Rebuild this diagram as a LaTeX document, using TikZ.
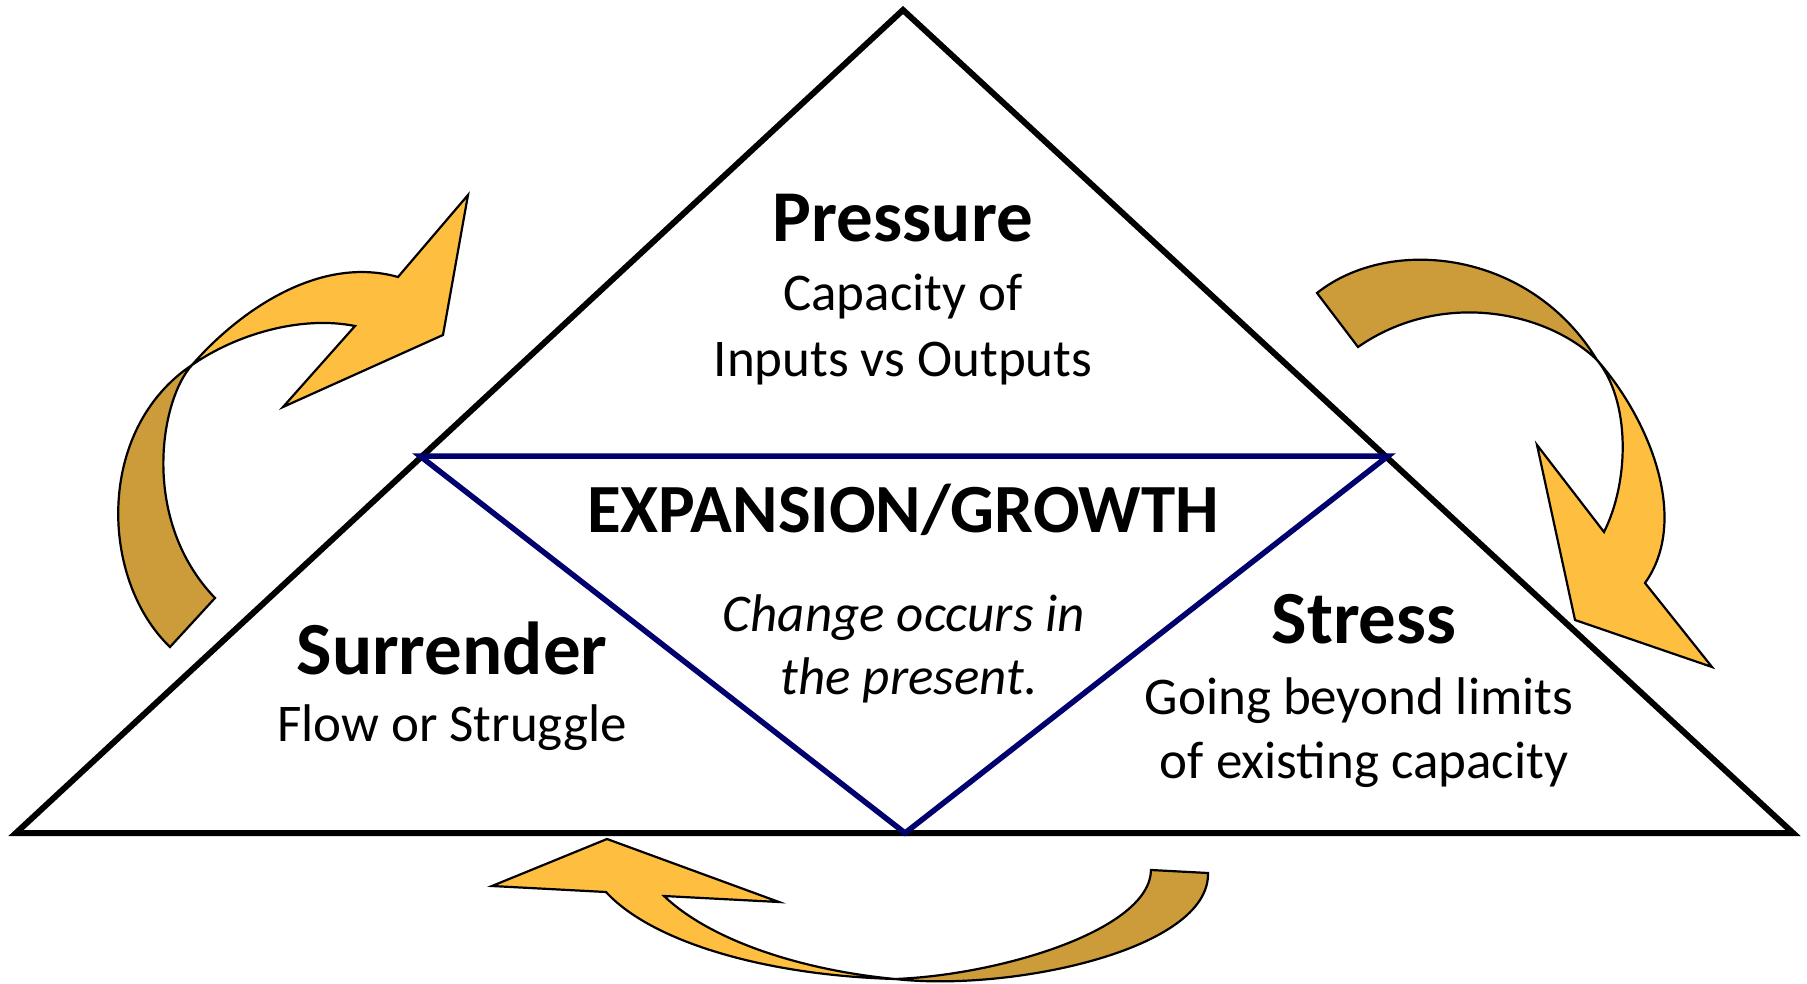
\documentclass[tikz,border=0pt]{standalone}
\usepackage{fontspec}
\setmainfont{Carlito}
\definecolor{arrlight}{RGB}{254,191,64}
\definecolor{arrdark}{RGB}{204,155,58}
\definecolor{navyline}{RGB}{0,0,110}
\begin{document}
\begin{tikzpicture}[x=1pt,y=-1pt,
  hdr/.style={font=\fontsize{73}{80}\selectfont\bfseries, anchor=base, inner sep=0},
  body/.style={font=\fontsize{53}{63}\selectfont, anchor=base, inner sep=0},
  itbody/.style={font=\fontsize{53}{63}\selectfont\itshape, anchor=base, inner sep=0},
  outer/.style={line width=6pt, line join=miter},
  inner/.style={line width=5.5pt, draw=navyline, line join=miter},
  arrlt/.style={fill=arrlight, draw=black, line width=2.2pt, line join=miter},
  arrdk/.style={fill=arrdark, draw=black, line width=2.2pt, line join=miter}]
\useasboundingbox (0,0) rectangle (1807,984);
% outer triangle
\coordinate (apex) at (903,10);
\coordinate (bl) at (16,833);
\coordinate (br) at (1793,833);
\draw[outer] (apex) -- (bl) -- (br) -- cycle;
% inner triangle
\coordinate (il) at (420,456);
\coordinate (ir) at (1388,456);
\coordinate (ib) at (905,833);
\draw[inner] (il) -- (ir) -- (ib) -- cycle;
% texts
\node[hdr] (pressure) at (903,242) {Pressure};
\node[body] (cap1) at (903,311) {Capacity of};
\node[body] (cap2) at (903,376) {Inputs vs Outputs};
\node[hdr, font=\fontsize{69}{80}\selectfont\bfseries] (growth) at (903,532) {EXPANSION/GROWTH};
\node[itbody] (chg1) at (904,631) {Change occurs in};
\node[itbody] (chg2) at (909,694) {the present.};
\node[hdr, font=\fontsize{75}{80}\selectfont\bfseries] (surr) at (452,674) {Surrender};
\node[body] (flow) at (452,741) {Flow or Struggle};
\node[hdr, font=\fontsize{75}{80}\selectfont\bfseries] (stress) at (1364,643) {Stress};
\node[body] (going1) at (1359,714) {Going beyond limits};
\node[body] (going2) at (1364,778) {of existing capacity};
% left arrow
\coordinate (lA) at (170,647); \coordinate (lB) at (215,598); \coordinate (lC) at (192,365);
\coordinate (lU) at (398,277); \coordinate (lT) at (468,195); \coordinate (lL) at (443,335);
\coordinate (lI) at (283,407); \coordinate (lN) at (355,326);
\filldraw[arrdk] (lA) .. controls (100,580) and (95,430) .. (lC)
  .. controls (160,400) and (140,520) .. (lB) -- cycle;
\filldraw[arrlt] (lC) .. controls (240,310) and (320,255) .. (lU)
  -- (lT) -- (lL) -- (lI) -- (lN) .. controls (300,315) and (235,335) .. (lC) -- cycle;
% right arrow
\coordinate (rO) at (1317,293); \coordinate (rI) at (1358,347); \coordinate (rC) at (1597,360);
\coordinate (rB) at (1645,583); \coordinate (rT) at (1712,667); \coordinate (rK) at (1575,620);
\coordinate (rJ) at (1537,445); \coordinate (rN) at (1604,532);
\filldraw[arrdk] (rO) .. controls (1390,235) and (1530,250) .. (rC)
  .. controls (1545,310) and (1440,290) .. (rI) -- cycle;
\filldraw[arrlt] (rC) .. controls (1650,420) and (1690,520) .. (rB)
  -- (rT) -- (rK) -- (rJ) -- (rN) .. controls (1630,480) and (1630,400) .. (rC) -- cycle;
% bottom arrow
\coordinate (bO) at (1208,873); \coordinate (bI) at (1151,870); \coordinate (bC) at (895,979);
\coordinate (bB) at (606,892); \coordinate (bT) at (492,886); \coordinate (bH) at (607,839);
\coordinate (bK) at (779,902); \coordinate (bJ) at (664,896);
\filldraw[arrdk] (bO) .. controls (1210,950) and (1010,992) .. (bC)
  .. controls (1000,975) and (1150,930) .. (bI) -- cycle;
\filldraw[arrlt] (bC) .. controls (760,975) and (650,940) .. (bB)
  -- (bT) -- (bH) -- (bK) -- (bJ) .. controls (710,940) and (800,970) .. (bC) -- cycle;
\end{tikzpicture}
\end{document}
